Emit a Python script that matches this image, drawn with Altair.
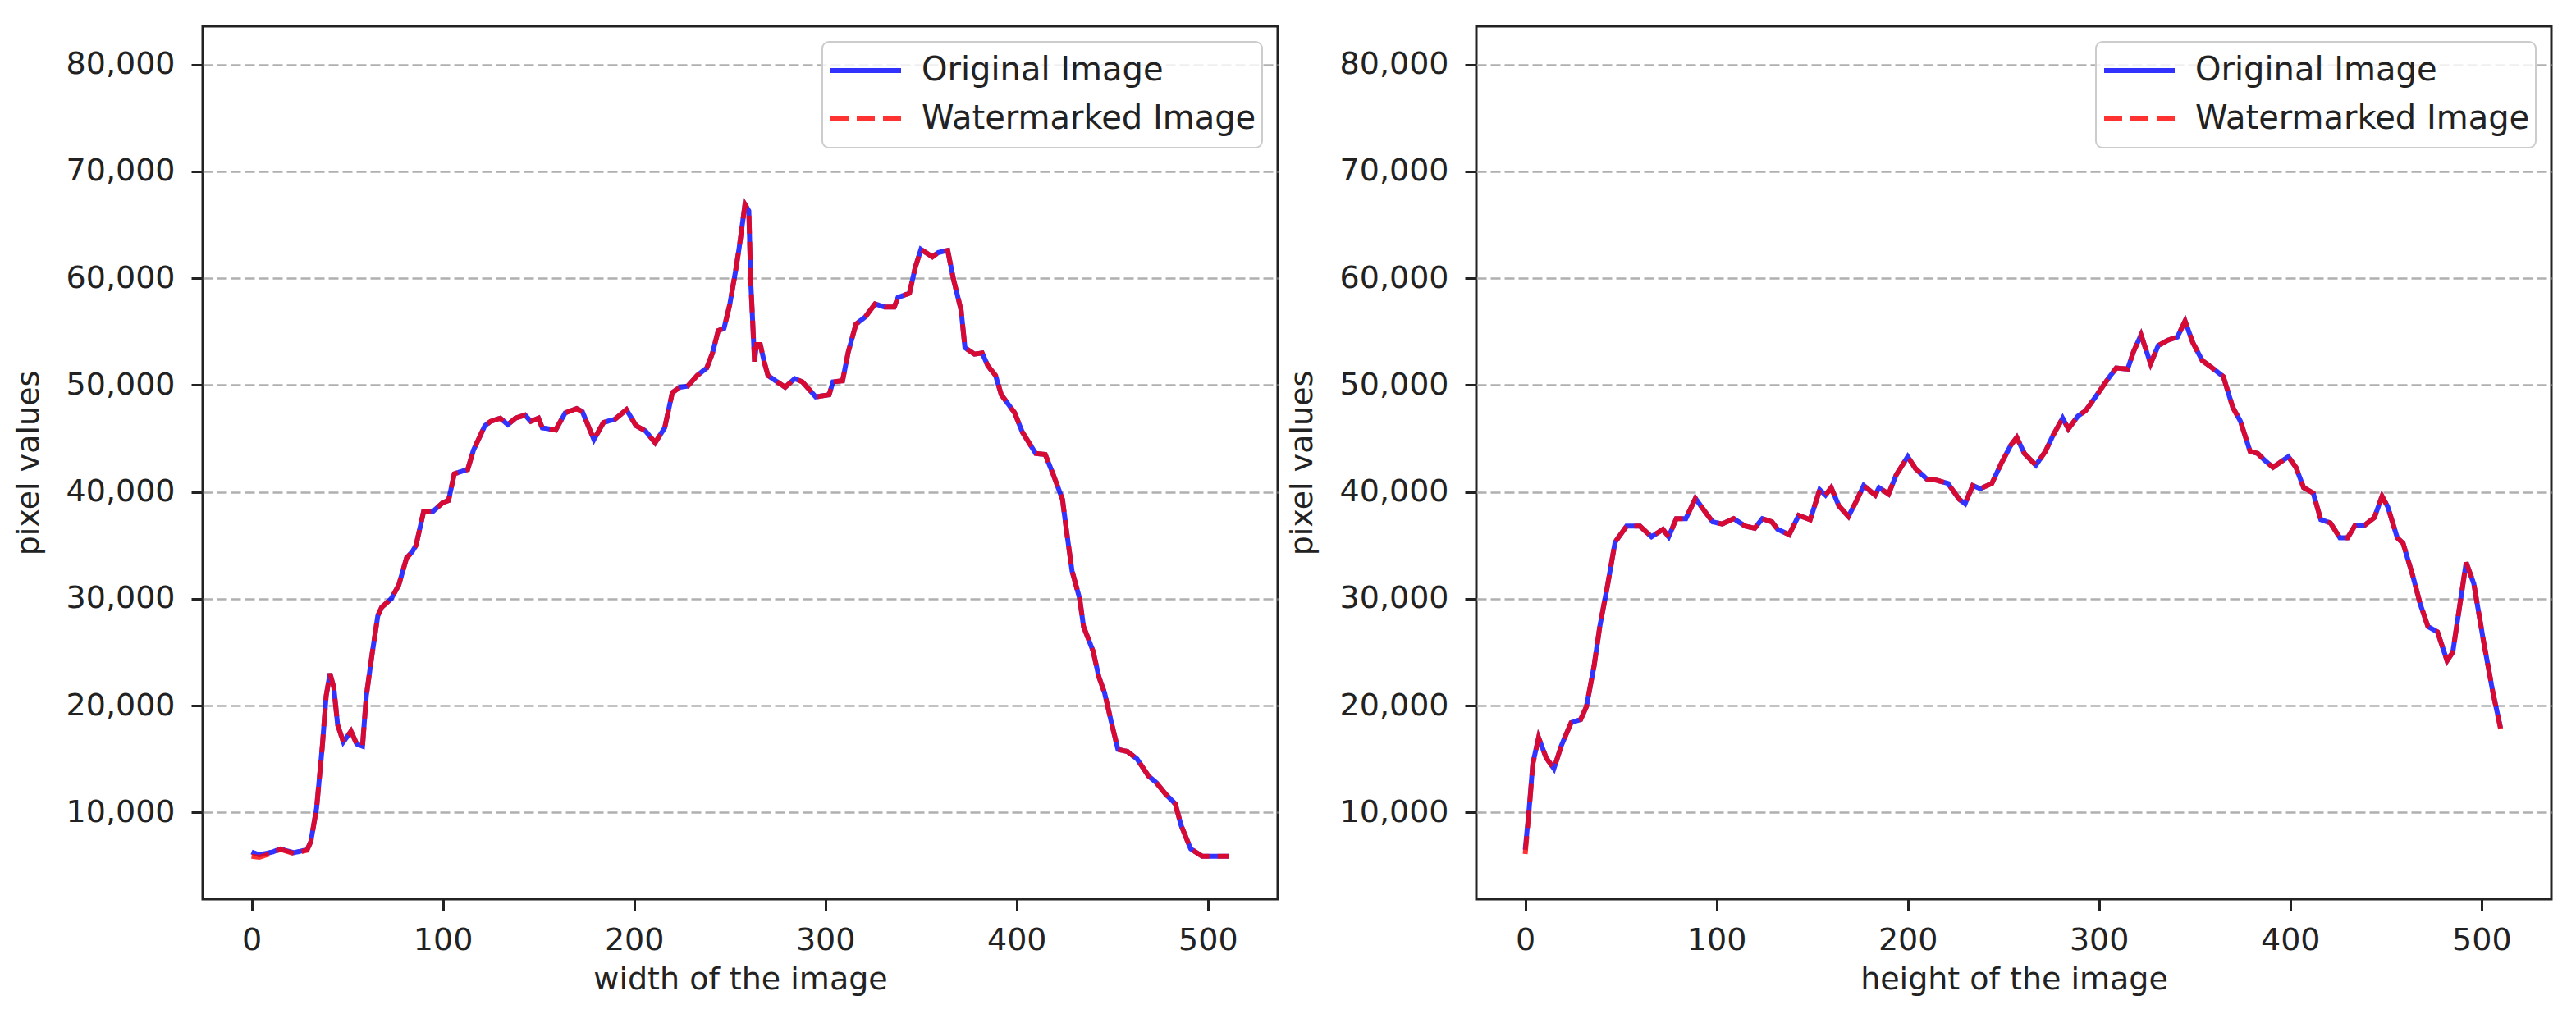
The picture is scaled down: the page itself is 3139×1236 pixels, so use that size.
import altair as alt
import pandas as pd

SERIES = ["Original Image", "Watermarked Image"]
COLORS = ["#0000ff", "#ff0000"]
DASHES = [[1, 0], [22, 10]]

X_TICKS = [0, 100, 200, 300, 400, 500]
Y_TICKS = [10000, 20000, 30000, 40000, 50000, 60000, 70000, 80000]
X_DOMAIN = [-25.55, 536.55]
Y_DOMAIN = [1884, 83586]

# ---- width profile (left panel) ----
W_X = [0, 4, 11, 15, 22, 29, 31, 34, 37, 39,
       41, 43, 45, 48, 52, 55, 58, 60, 63, 66,
       68, 73, 77, 81, 84, 86, 90, 95, 100, 103,
       106, 113, 116, 122, 125, 130, 134, 138, 143, 146,
       150, 152, 159, 164, 170, 173, 179, 184, 190, 196,
       201, 206, 211, 216, 220, 224, 228, 233, 238, 241,
       244, 247, 250, 253, 255, 258, 260, 261, 263, 264,
       266, 268, 270, 274, 279, 284, 288, 295, 302, 304,
       309, 312, 316, 321, 326, 331, 336, 338, 344, 347,
       350, 356, 359, 364, 367, 371, 373, 378, 382, 385,
       389, 392, 399, 403, 410, 415, 419, 424, 426, 429,
       433, 435, 440, 443, 446, 450, 453, 458, 463, 469,
       473, 478, 483, 486, 491, 497, 504, 511]
W_ORIG = [6300, 6030, 6300, 6580, 6230, 6500, 7280, 10400, 16200, 20900,
          23000, 21700, 18200, 16600, 17600, 16400, 16200, 20900, 24800, 28400,
          29200, 30000, 31300, 33800, 34400, 35000, 38200, 38200, 39000, 39200,
          41700, 42100, 43900, 46200, 46600, 46900, 46300, 46900, 47200, 46600,
          46900, 46000, 45800, 47400, 47800, 47500, 44900, 46500, 46800, 47700,
          46200, 45700, 44600, 46000, 49300, 49800, 49900, 50900, 51600, 53000,
          55100, 55300, 57500, 60600, 62900, 66900, 66300, 59700, 52200, 53800,
          53800, 52200, 50900, 50400, 49800, 50600, 50300, 48900, 49100, 50300,
          50400, 53100, 55700, 56400, 57600, 57300, 57300, 58200, 58600, 61000,
          62700, 62000, 62400, 62600, 59900, 57000, 53500, 52900, 53000, 51800,
          50900, 49100, 47400, 45600, 43600, 43500, 41700, 39300, 36500, 32600,
          30000, 27400, 25100, 22700, 21200, 18100, 15900, 15700, 15000, 13400,
          12800, 11700, 10800, 8800, 6600, 5900, 5900, 5900]
W_WM = [5900, 5800, 6200, 6550, 6150, 6450, 7280, 10400, 16200, 20900,
        23000, 21700, 18200, 16600, 17600, 16400, 16200, 20900, 24800, 28400,
        29200, 30000, 31300, 33800, 34400, 35000, 38200, 38200, 39000, 39200,
        41700, 42100, 43900, 46200, 46600, 46900, 46300, 46900, 47200, 46600,
        46900, 46000, 45800, 47400, 47800, 47500, 44900, 46500, 46800, 47700,
        46200, 45700, 44600, 46000, 49300, 49800, 49900, 50900, 51600, 53000,
        55100, 55300, 57500, 60600, 62900, 66900, 66300, 59700, 52200, 53800,
        53800, 52200, 50900, 50400, 49800, 50600, 50300, 48900, 49100, 50300,
        50400, 53100, 55700, 56400, 57600, 57300, 57300, 58200, 58600, 61000,
        62700, 62000, 62400, 62600, 59900, 57000, 53500, 52900, 53000, 51800,
        50900, 49100, 47400, 45600, 43600, 43500, 41700, 39300, 36500, 32600,
        30000, 27400, 25100, 22700, 21200, 18100, 15900, 15700, 15000, 13400,
        12800, 11700, 10800, 8800, 6600, 5900, 5900, 5900]

# ---- height profile (right panel) ----
H_X = [0, 2, 4, 7, 11, 15, 19, 24, 29, 32,
       36, 39, 43, 47, 53, 60, 66, 72, 75, 79,
       84, 89, 93, 98, 103, 109, 115, 120, 124, 129,
       132, 138, 143, 149, 154, 157, 160, 164, 169, 173,
       177, 183, 185, 190, 194, 200, 204, 210, 215, 221,
       227, 230, 234, 238, 244, 249, 254, 257, 261, 267,
       272, 276, 281, 284, 289, 293, 299, 304, 309, 315,
       318, 322, 327, 331, 336, 341, 345, 349, 354, 360,
       365, 370, 374, 379, 383, 387, 391, 395, 399, 403,
       407, 412, 416, 421, 426, 430, 434, 439, 444, 448,
       451, 456, 459, 464, 468, 472, 477, 482, 485, 489,
       492, 496, 501, 506, 510]
H_ORIG = [6500, 10200, 14600, 17000, 15100, 14100, 16300, 18400, 18700, 19900,
          23700, 27400, 31200, 35300, 36800, 36800, 35800, 36500, 35800, 37500,
          37500, 39400, 38400, 37200, 37000, 37500, 36800, 36600, 37500, 37200,
          36500, 36000, 37800, 37400, 40200, 39700, 40400, 38700, 37700, 39100,
          40600, 39700, 40400, 39800, 41600, 43300, 42200, 41200, 41100, 40800,
          39300, 38900, 40600, 40300, 40800, 42700, 44400, 45100, 43600, 42500,
          43800, 45300, 46900, 45900, 47100, 47600, 49100, 50400, 51600, 51500,
          53100, 54700, 52000, 53700, 54200, 54500, 56000, 54000, 52300, 51500,
          50800, 47900, 46600, 43800, 43600, 42900, 42300, 42800, 43300, 42300,
          40400, 39900, 37400, 37100, 35700, 35700, 36900, 36900, 37600, 39600,
          38600, 35700, 35200, 32200, 29500, 27400, 26900, 24200, 25000, 29800,
          33400, 31400, 26100, 21200, 17900]
H_WM = [6100, 10000, 14500, 17000, 15100, 14100, 16300, 18400, 18700, 19900,
        23700, 27400, 31200, 35300, 36800, 36800, 35800, 36500, 35800, 37500,
        37500, 39400, 38400, 37200, 37000, 37500, 36800, 36600, 37500, 37200,
        36500, 36000, 37800, 37400, 40200, 39700, 40400, 38700, 37700, 39100,
        40600, 39700, 40400, 39800, 41600, 43300, 42200, 41200, 41100, 40800,
        39300, 38900, 40600, 40300, 40800, 42700, 44400, 45100, 43600, 42500,
        43800, 45300, 46900, 45900, 47100, 47600, 49100, 50400, 51600, 51500,
        53100, 54700, 52000, 53700, 54200, 54500, 56000, 54000, 52300, 51500,
        50800, 47900, 46600, 43800, 43600, 42900, 42300, 42800, 43300, 42300,
        40400, 39900, 37400, 37100, 35700, 35700, 36900, 36900, 37600, 39600,
        38600, 35700, 35200, 32200, 29500, 27400, 26900, 24200, 25000, 29800,
        33400, 31400, 26100, 21200, 17800]

FONT = "DejaVu Sans"
TXT = "#222222"


def panel(xs, orig, wm, xtitle):
    df = pd.DataFrame({
        "x": list(xs) + list(xs),
        "y": list(orig) + list(wm),
        "series": [SERIES[0]] * len(xs) + [SERIES[1]] * len(xs),
    })
    enc = dict(
        x=alt.X("x:Q",
                scale=alt.Scale(domain=X_DOMAIN, nice=False, zero=False),
                axis=alt.Axis(values=X_TICKS, title=xtitle, grid=False,
                              labelPadding=17, titlePadding=10)),
        y=alt.Y("y:Q",
                scale=alt.Scale(domain=Y_DOMAIN, nice=False, zero=False),
                axis=alt.Axis(values=Y_TICKS, format=",.0f", title="pixel values",
                              grid=True, labelPadding=20, titlePadding=26)),
        color=alt.Color("series:N", title=None,
                        scale=alt.Scale(domain=SERIES, range=COLORS)),
        strokeDash=alt.StrokeDash("series:N", title=None,
                                  scale=alt.Scale(domain=SERIES, range=DASHES)),
    )
    base = alt.Chart(df)
    blue = base.transform_filter(alt.datum.series == SERIES[0]).mark_line(
        strokeWidth=6, opacity=0.8).encode(**enc)
    red = base.transform_filter(alt.datum.series == SERIES[1]).mark_line(
        strokeWidth=6, opacity=0.8).encode(**enc)
    return alt.layer(blue, red).properties(width=1310, height=1064)


left = panel(W_X, W_ORIG, W_WM, "width of the image")
right = panel(H_X, H_ORIG, H_WM, "height of the image")

chart = (
    alt.hconcat(left, right, spacing=7)
    .resolve_scale(color="independent", strokeDash="independent")
    .resolve_legend(color="independent", strokeDash="independent")
    .properties(padding={"left": 6, "top": 22, "right": 5, "bottom": 5},
                background="white")
    .configure_view(stroke=TXT, strokeWidth=3)
    .configure_axis(
        labelFont=FONT, labelFontSize=38, labelColor=TXT,
        titleFont=FONT, titleFontSize=38, titleFontWeight="normal", titleColor=TXT,
        tickColor=TXT, tickSize=14, tickWidth=3, domain=False,
        gridColor="#b0b0b0", gridDash=[12, 5], gridWidth=2.5,
    )
    .configure_legend(
        orient="top-right", offset=19,
        fillColor="rgba(255,255,255,0.8)", strokeColor="#cccccc", strokeWidth=2,
        cornerRadius=8, padding=7,
        labelFont=FONT, labelFontSize=40, labelColor=TXT, labelLimit=1000,
        symbolType="stroke", symbolStrokeWidth=6, symbolSize=7396,
        clipHeight=56, labelOffset=22, rowPadding=3,
    )
)

chart.save("out.html", embed_options={"renderer": "svg", "actions": False})
